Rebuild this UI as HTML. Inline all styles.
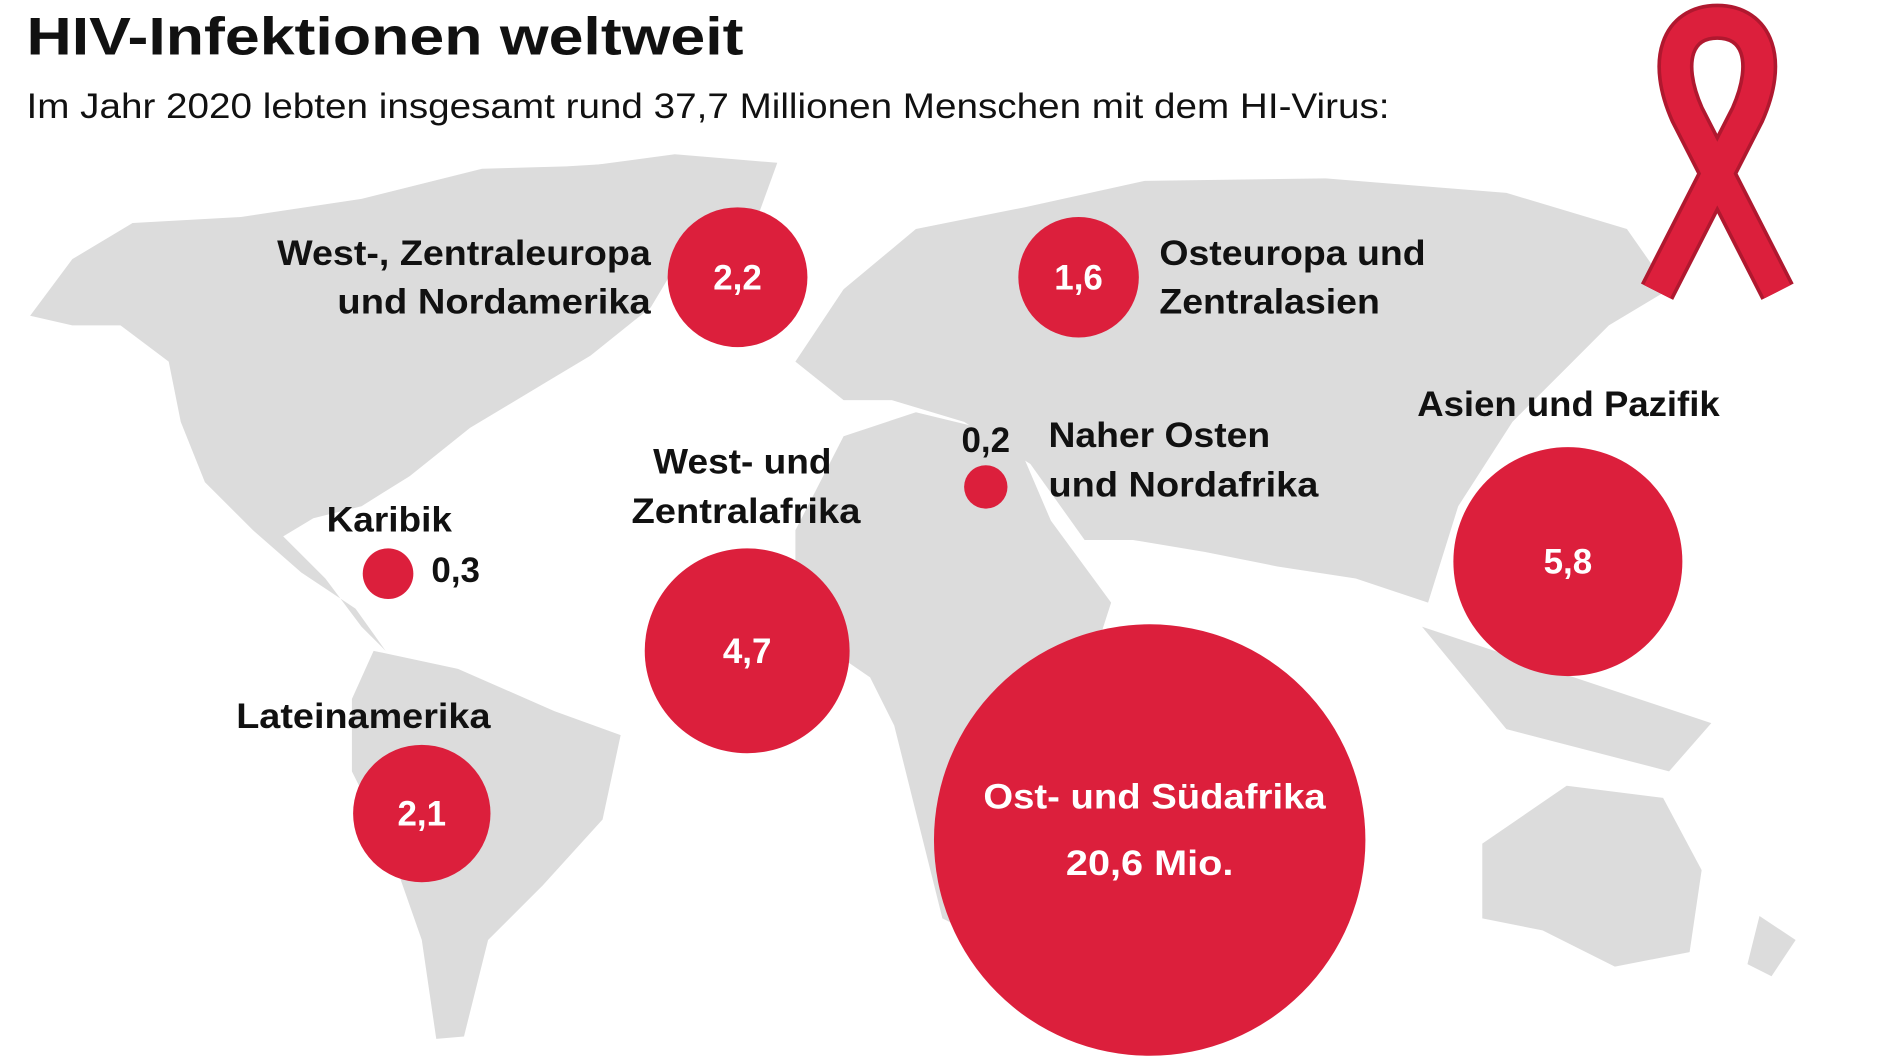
<!DOCTYPE html>
<html><head><meta charset="utf-8"><style>
html,body{margin:0;padding:0;background:#fff;}
svg{display:block;}
text{font-family:"Liberation Sans",sans-serif;font-weight:bold;}
</style></head><body>
<svg width="1880" height="1057" viewBox="0 0 1560 877" xmlns="http://www.w3.org/2000/svg">
<rect width="1560" height="877" fill="#fff"/>
<g fill="#dcdcdc">
<path d="M25,262 L60,215 L110,185 L200,180 L300,165 L400,140 L470,138 L520,135 L560,150 L600,175 L570,205 L540,255 L490,295 L440,325 L390,355 L340,395 L300,420 L260,430 L235,445 L270,480 L300,520 L320,540 L295,505 L250,475 L210,440 L170,400 L150,350 L140,300 L100,270 L60,270 Z"/>
<path d="M470,140 L560,128 L645,135 L625,190 L585,225 L545,215 L510,175 Z"/>
<path d="M310,540 L380,555 L460,590 L515,610 L500,680 L450,735 L405,780 L385,860 L362,862 L350,780 L322,700 L292,640 L292,580 Z"/>
<path d="M660,300 L700,240 L760,190 L850,172 L950,150 L1100,148 L1250,160 L1350,190 L1385,240 L1335,270 L1300,305 L1255,350 L1210,420 L1185,500 L1125,480 L1060,470 L1000,458 L940,448 L900,448 L855,385 L800,350 L740,332 L700,332 Z"/>
<path d="M660,440 L700,362 L760,342 L842,362 L872,432 L922,500 L902,562 L862,622 L842,702 L802,772 L782,762 L762,682 L742,602 L722,562 L690,540 L660,500 Z"/>
<path d="M1180,520 L1300,560 L1420,600 L1385,640 L1250,605 Z"/>
<path d="M1230,700 L1300,652 L1380,662 L1412,722 L1402,790 L1340,802 L1280,772 L1230,762 Z"/>
<path d="M1460,760 L1490,780 L1470,810 L1450,800 Z"/>
</g>
<g fill="#dc1f3c">
<circle cx="612" cy="230" r="58"/>
<circle cx="895" cy="230" r="50"/>
<circle cx="818" cy="404" r="18"/>
<circle cx="322" cy="476" r="21"/>
<circle cx="620" cy="540" r="85"/>
<circle cx="350" cy="675" r="57"/>
<circle cx="1301" cy="466" r="95"/>
<circle cx="954" cy="697" r="179"/>
</g>
<g fill="none" stroke="#b0182f" stroke-width="30" stroke-linejoin="round">
<path d="M1375,242 L1450,95 C1470,50 1458,18 1425,18 C1392,18 1380,50 1400,95 L1475,242"/>
</g>
<g fill="none" stroke="#dc1f3c" stroke-width="24" stroke-linejoin="round">
<path d="M1375,242 L1450,95 C1470,50 1458,18 1425,18 C1392,18 1380,50 1400,95 L1475,242"/>
</g>
<text x="22" y="45" font-size="44" fill="#111" textLength="595" lengthAdjust="spacingAndGlyphs">HIV-Infektionen weltweit</text>
<text x="22" y="98" font-size="29" style="font-weight:normal" fill="#111" textLength="1131" lengthAdjust="spacingAndGlyphs">Im Jahr 2020 lebten insgesamt rund 37,7 Millionen Menschen mit dem HI-Virus:</text>
<g fill="#111" font-size="29">
<text x="230" y="220" textLength="310" lengthAdjust="spacingAndGlyphs">West-, Zentraleuropa</text>
<text x="280" y="260" textLength="260" lengthAdjust="spacingAndGlyphs">und Nordamerika</text>
<text x="962" y="220" textLength="221" lengthAdjust="spacingAndGlyphs">Osteuropa und</text>
<text x="962" y="260" textLength="183" lengthAdjust="spacingAndGlyphs">Zentralasien</text>
<text x="1176" y="345" textLength="251" lengthAdjust="spacingAndGlyphs">Asien und Pazifik</text>
<text x="870" y="371" textLength="184" lengthAdjust="spacingAndGlyphs">Naher Osten</text>
<text x="870" y="412" textLength="224" lengthAdjust="spacingAndGlyphs">und Nordafrika</text>
<text x="542" y="393" textLength="148" lengthAdjust="spacingAndGlyphs">West- und</text>
<text x="524" y="434" textLength="190" lengthAdjust="spacingAndGlyphs">Zentralafrika</text>
<text x="271" y="441" textLength="104" lengthAdjust="spacingAndGlyphs">Karibik</text>
<text x="196" y="604" textLength="211" lengthAdjust="spacingAndGlyphs">Lateinamerika</text>
<text x="818" y="375" text-anchor="middle">0,2</text>
<text x="358" y="483">0,3</text>
</g>
<g fill="#fff" font-size="29" text-anchor="middle">
<text x="612" y="240">2,2</text>
<text x="895" y="240">1,6</text>
<text x="620" y="550">4,7</text>
<text x="350" y="685">2,1</text>
<text x="1301" y="476">5,8</text>
<text x="958" y="671" textLength="284" lengthAdjust="spacingAndGlyphs">Ost- und Südafrika</text>
<text x="954" y="726" textLength="139" lengthAdjust="spacingAndGlyphs">20,6 Mio.</text>
</g>
</svg>
</body></html>
